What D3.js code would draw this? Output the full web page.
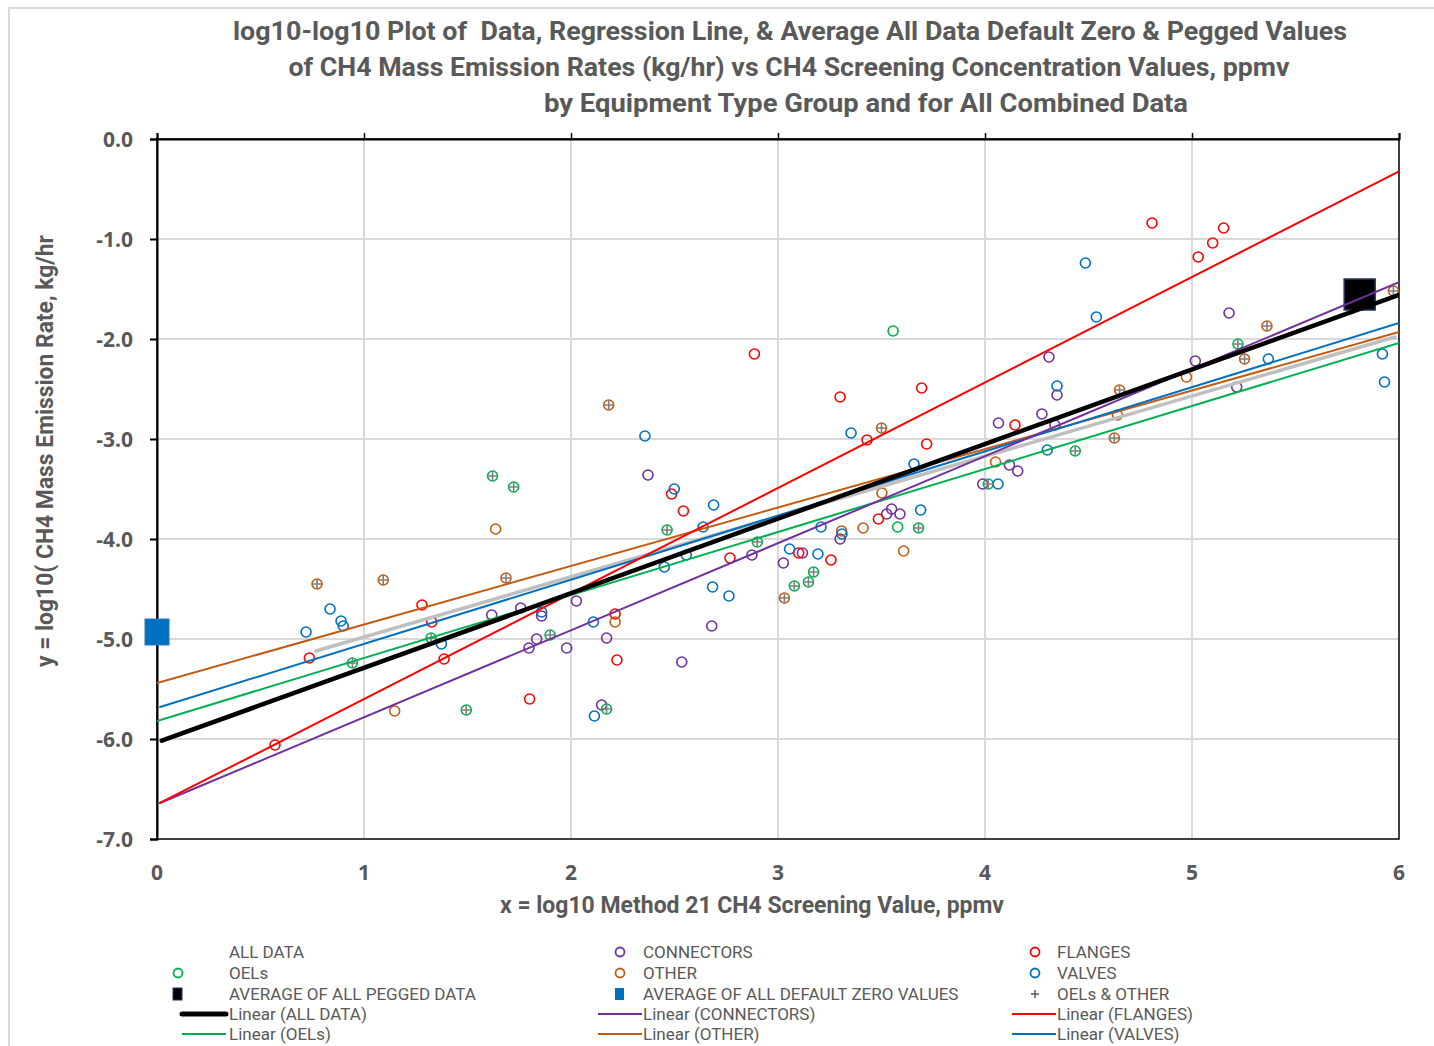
<!DOCTYPE html>
<html>
<head>
<meta charset="utf-8">
<script src="https://cdn.jsdelivr.net/npm/d3@7"></script>
<style>
  body { margin: 0; background: #fff; }
  svg { display: block; font-family: "Liberation Sans Narrow", "Roboto", "Liberation Sans", sans-serif; }
</style>
</head>
<body>
<div id="chart"></div>
<script>
// ---- data (log10 x, log10 y) ----
var connectors = [[1.617,-4.76],[1.757,-4.69],[1.858,-4.77],[1.834,-5.00],[1.797,-5.09],[1.979,-5.09],
  [2.026,-4.62],[2.172,-4.99],[2.372,-3.36],[2.680,-4.87],[2.535,-5.23],[2.874,-4.16],[3.026,-4.24],
  [3.118,-4.14],[3.300,-4.00],[3.525,-3.75],[3.549,-3.70],[3.589,-3.75],[2.148,-5.66],[3.989,-3.45],
  [4.065,-2.84],[4.118,-3.26],[4.158,-3.32],[4.275,-2.75],[4.309,-2.18],[4.348,-2.56],[4.338,-2.86],
  [5.016,-2.22],[5.179,-1.74],[5.216,-2.48]];
var flanges = [[0.57,-6.06],[0.736,-5.19],[1.28,-4.66],[1.327,-4.83],[1.387,-5.20],[1.80,-5.60],
  [2.886,-2.15],[2.486,-3.55],[2.543,-3.72],[2.213,-4.75],[2.222,-5.21],[2.768,-4.19],[3.10,-4.14],
  [3.256,-4.21],[3.30,-2.58],[3.43,-3.01],[3.694,-2.49],[3.718,-3.05],[3.485,-3.80],[4.145,-2.86],
  [4.807,-0.84],[5.03,-1.18],[5.10,-1.04],[5.153,-0.89]];
var oelsPlus = [[1.621,-3.37],[1.723,-3.48],[1.324,-4.99],[0.944,-5.24],[1.494,-5.71],[1.899,-4.96],
  [2.464,-3.91],[2.90,-4.03],[2.172,-5.70],[3.079,-4.47],[3.147,-4.43],[3.172,-4.33],[3.679,-3.89],
  [4.016,-3.45],[4.436,-3.12],[5.222,-2.05]];
var oelsPlain = [[3.556,-1.92],[3.578,-3.88]];
var otherPlus = [[0.773,-4.45],[1.093,-4.41],[1.686,-4.39],[2.182,-2.66],[3.031,-4.59],[3.50,-2.89],
  [4.65,-2.51],[4.625,-2.99],[5.362,-1.87],[5.254,-2.20],[5.973,-1.52]];
var otherPlain = [[1.636,-3.90],[1.148,-5.72],[2.213,-4.83],[3.307,-3.92],[3.411,-3.89],[3.502,-3.54],
  [3.607,-4.12],[4.051,-3.23],[4.64,-2.76],[4.973,-2.38]];
var valves = [[0.72,-4.93],[0.836,-4.70],[0.889,-4.82],[0.90,-4.87],[1.374,-5.05],[1.858,-4.73],
  [2.357,-2.97],[2.499,-3.50],[2.689,-3.66],[2.638,-3.88],[2.557,-4.16],[2.451,-4.28],[2.684,-4.48],
  [2.763,-4.57],[2.108,-4.83],[2.113,-5.77],[3.056,-4.10],[3.193,-4.15],[3.208,-3.88],[3.309,-3.95],
  [3.353,-2.94],[3.657,-3.25],[3.689,-3.71],[4.063,-3.45],[4.301,-3.11],[4.348,-2.47],[4.485,-1.24],
  [4.538,-1.78],[5.369,-2.20],[5.92,-2.15],[5.93,-2.43]];
var peggedAvg = [[5.81,-1.555]];
var zeroAvg = [[0.0,-4.93]];

// trendlines
var trendNames = ["ALL DATA","CONNECTORS","FLANGES","OELs","OTHER","VALVES","OELs & OTHER"];
var trendIntercepts = [-6.034,-6.653,-6.655,-5.82,-5.44,-5.69,-5.583];
var trendSlopes = [0.7457,0.8704,1.055,0.63,0.585,0.6416,0.6025];
var trendStart = [0.023,0.0145,0.0145,0,0,0.015,0.768];
var trendEnd = [6,6,6,6,6,6,5.98];

var xTicks = [0,1,2,3,4,5,6];
var yTicks = [0,-1,-2,-3,-4,-5,-6,-7];

var colors = {conn:"#7030A0", flange:"#FF0000", oel:"#00B050", other:"#C55A11", valve:"#0070C0", gray:"#BFBFBF"};
var trendColors = ["#000000", colors.conn, colors.flange, colors.oel, colors.other, colors.valve, colors.gray];
var trendWidths = [4.5, 2, 2, 2, 2, 2, 3.5];
var textGray = "#595959";

var W = 1434, H = 1046;
var svg = d3.select("#chart").append("svg").attr("width", W).attr("height", H);

svg.append("rect").attr("x", 9).attr("y", 8).attr("width", W + 20).attr("height", H + 20)
  .attr("fill", "#fff").attr("stroke", "#D9D9D9").attr("stroke-width", 2);

var xScale = d3.scaleLinear().domain([0, 6]).range([157, 1399]);
var yScale = d3.scaleLinear().domain([-7, 0]).range([839, 139]);

// title
var titles = [["log10-log10 Plot of  Data, Regression Line, & Average All Data Default Zero & Pegged Values", 790, 40, 1114],
  ["of CH4 Mass Emission Rates (kg/hr) vs CH4 Screening Concentration Values, ppmv", 789, 76, 1001],
  ["by Equipment Type Group and for All Combined Data", 866, 112, 644]];
titles.forEach(function(t) {
  svg.append("text").attr("x", t[1]).attr("y", t[2]).attr("text-anchor", "middle")
    .attr("textLength", t[3]).attr("lengthAdjust", "spacingAndGlyphs")
    .style("white-space", "pre")
    .style("font-size", "26px").style("font-weight", "bold").attr("fill", textGray).text(t[0]);
});

// gridlines
var grid = svg.append("g");
grid.selectAll(".gx").data(xTicks.slice(1, -1)).enter().append("line")
  .attr("x1", d => xScale(d)).attr("x2", d => xScale(d)).attr("y1", 139).attr("y2", 839)
  .attr("stroke", "#D9D9D9").attr("stroke-width", 2);
grid.selectAll(".gy").data(yTicks.slice(1, -1)).enter().append("line")
  .attr("x1", 157).attr("x2", 1399).attr("y1", d => yScale(d)).attr("y2", d => yScale(d))
  .attr("stroke", "#D9D9D9").attr("stroke-width", 2);

// plot border
svg.append("rect").attr("x", 157).attr("y", 139).attr("width", 1242).attr("height", 700)
  .attr("fill", "none").attr("stroke", "#000").attr("stroke-width", 1.5);

// axes
var yAxis = d3.axisLeft(yScale).tickValues(yTicks).tickSize(7).tickFormat(d3.format(".1f"));
var yg = svg.append("g").attr("transform", "translate(157,0)").call(yAxis);
yg.select(".domain").attr("stroke", "#000").attr("stroke-width", 2);
yg.selectAll(".tick line").attr("stroke", "#000").attr("stroke-width", 2);
yg.selectAll(".tick text").attr("x", -24).attr("dy", "0.35em").attr("fill", textGray)
  .style("font-size", "21px").style("font-weight", "bold").style("font-family", "'Open Sans', sans-serif")
  .text(d => d3.format(".1f")(d).replace("−", "-"));

var xAxis = d3.axisTop(xScale).tickValues(xTicks).tickSize(6).tickFormat(d3.format("d"));
var xg = svg.append("g").attr("transform", "translate(0,139)").call(xAxis);
xg.select(".domain").attr("stroke", "#000").attr("stroke-width", 2);
xg.selectAll(".tick line").attr("stroke", "#000").attr("stroke-width", 1.5);
xg.selectAll(".tick text").remove();
svg.selectAll(".xlab").data(xTicks).enter().append("text")
  .attr("x", d => xScale(d)).attr("y", 880).attr("text-anchor", "middle").attr("fill", textGray)
  .style("font-size", "21px").style("font-weight", "bold").style("font-family", "'Open Sans', sans-serif")
  .text(d => d);

// axis titles
svg.append("text").attr("x", 752).attr("y", 913).attr("text-anchor", "middle")
  .attr("textLength", 504).attr("lengthAdjust", "spacingAndGlyphs")
  .style("font-size", "23px").style("font-weight", "bold").attr("fill", textGray)
  .text("x = log10 Method 21 CH4 Screening Value, ppmv");
svg.append("text").attr("transform", "translate(53,451) rotate(-90)").attr("text-anchor", "middle")
  .attr("textLength", 432).attr("lengthAdjust", "spacingAndGlyphs")
  .style("font-size", "23px").style("font-weight", "bold").attr("fill", textGray)
  .text("y = log10( CH4 Mass Emission Rate, kg/hr");

// markers
var plot = svg.append("g");
function circles(data, color) {
  plot.append("g").selectAll("circle").data(data).enter().append("circle")
    .attr("cx", d => xScale(d[0])).attr("cy", d => yScale(d[1])).attr("r", 5)
    .attr("fill", "none").attr("stroke", color).attr("stroke-width", 1.6);
}
circles(connectors, colors.conn);
circles(flanges, colors.flange);
circles(oelsPlus.concat(oelsPlain), colors.oel);
circles(otherPlus.concat(otherPlain), colors.other);
circles(valves, colors.valve);

plot.append("g").selectAll("rect").data(peggedAvg).enter().append("rect")
  .attr("x", d => xScale(d[0]) - 15.5).attr("y", d => yScale(d[1]) - 15.5)
  .attr("width", 31).attr("height", 31).attr("fill", "#000").attr("stroke", "#1F3864").attr("stroke-width", 1.5);
plot.append("g").selectAll("rect").data(zeroAvg).enter().append("rect")
  .attr("x", d => xScale(d[0]) - 12).attr("y", d => yScale(d[1]) - 13)
  .attr("width", 24).attr("height", 26).attr("fill", "#0070C0").attr("stroke", "#2E75B6").attr("stroke-width", 1);

var plusG = plot.append("g");
plusG.selectAll("path").data(oelsPlus.concat(otherPlus)).enter().append("path")
  .attr("d", d => {
    var cx = xScale(d[0]), cy = yScale(d[1]);
    return "M" + (cx - 5) + "," + cy + "H" + (cx + 5) + "M" + cx + "," + (cy - 5) + "V" + (cy + 5);
  })
  .attr("stroke", "#7F7F7F").attr("stroke-width", 1.6).attr("fill", "none");

// trendlines
var trendData = trendNames.map(function(n, i) {
  return {name:n, b:trendIntercepts[i], m:trendSlopes[i], x0:trendStart[i], x1:trendEnd[i], color:trendColors[i], w:trendWidths[i]};
});
svg.append("clipPath").attr("id", "clip").append("rect").attr("x", 157).attr("y", 139).attr("width", 1242).attr("height", 700);
var order = [6, 4, 5, 3, 1, 2, 0];
svg.append("g").attr("clip-path", "url(#clip)").selectAll("line").data(order.map(i => trendData[i])).enter().append("line")
  .attr("x1", d => xScale(d.x0)).attr("y1", d => yScale(d.b + d.m * d.x0))
  .attr("x2", d => xScale(d.x1)).attr("y2", d => yScale(d.b + d.m * d.x1))
  .attr("stroke", d => d.color).attr("stroke-width", d => d.w).attr("stroke-linecap", "round");

// legend
var markerX = [175, 617, 1032];
var textX = [229, 643, 1057];
var lineX = [[182, 226], [598, 642], [1012, 1056]];
var legendRows = [952, 973, 994, 1014, 1034];
var legendItems = [
  ["ALL DATA", "none", null], ["CONNECTORS", "circle", colors.conn], ["FLANGES", "circle", colors.flange],
  ["OELs", "circle", colors.oel], ["OTHER", "circle", colors.other], ["VALVES", "circle", colors.valve],
  ["AVERAGE OF ALL PEGGED DATA", "sqblack", "#000"], ["AVERAGE OF ALL DEFAULT ZERO VALUES", "sqblue", "#0070C0"], ["OELs & OTHER", "plus", "#595959"],
  ["Linear (ALL DATA)", "line", "#000"], ["Linear (CONNECTORS)", "line", colors.conn], ["Linear (FLANGES)", "line", colors.flange],
  ["Linear (OELs)", "line", colors.oel], ["Linear (OTHER)", "line", colors.other], ["Linear (VALVES)", "line", colors.valve]
];
var lg = svg.append("g");
legendItems.forEach(function(it, i) {
  var col = i % 3;
  var cx = markerX[col], cy = legendRows[Math.floor(i / 3)];
  if (it[1] === "circle") {
    lg.append("circle").attr("cx", cx + 3).attr("cy", cy).attr("r", 4.5).attr("fill", "none").attr("stroke", it[2]).attr("stroke-width", 1.8);
  } else if (it[1] === "sqblack") {
    lg.append("rect").attr("x", cx - 2).attr("y", cy - 6).attr("width", 9).attr("height", 12).attr("fill", "#000").attr("stroke", "#1F3864");
  } else if (it[1] === "sqblue") {
    lg.append("rect").attr("x", cx - 2).attr("y", cy - 6).attr("width", 9).attr("height", 12).attr("fill", "#0070C0");
  } else if (it[1] === "plus") {
    lg.append("path").attr("d", "M" + (cx - 1) + "," + cy + "h8M" + (cx + 3) + "," + (cy - 4) + "v8").attr("stroke", it[2]).attr("stroke-width", 1.5);
  } else if (it[1] === "line") {
    var isAll = i === 9;
    lg.append("line").attr("x1", lineX[col][0]).attr("x2", lineX[col][1]).attr("y1", cy).attr("y2", cy)
      .attr("stroke", it[2]).attr("stroke-width", isAll ? 5 : 2).attr("stroke-linecap", isAll ? "round" : "butt");
  }
  lg.append("text").attr("x", textX[col]).attr("y", cy + 6).attr("fill", textGray)
    .style("font-size", "17px").text(it[0]);
});
</script>
</body>
</html>
